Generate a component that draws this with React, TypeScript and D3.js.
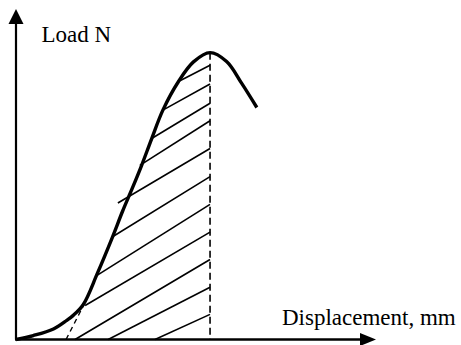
import React from "react";
import * as d3 from "d3";

// Schematic load–displacement curve (arbitrary units, axis span 0..10)
const curveX = [0, 0.48, 1.04, 1.41, 1.59, 1.87, 2.26, 2.68, 2.96, 3.24, 3.49, 3.77, 4.08, 4.51, 4.93, 5.39, 5.85, 6.27, 6.69];
const curveY = [0, 0.12, 0.32, 0.58, 0.73, 1.06, 2.0, 3.1, 3.88, 4.6, 5.27, 6.08, 6.94, 7.8, 8.4, 8.68, 8.41, 7.75, 7.02];

// peak displacement (dashed vertical)
const peakX = 5.39;
const peakY = 8.68;

// hatch lines: left end (x,y) to right end on the dashed line (peakX, y)
const hatchLeftX = [4.5, 4.08, 3.78, 3.44, 2.83, 2.67, 2.25, 1.92, 1.64, 2.56, 3.86];
const hatchLeftY = [7.8, 6.94, 6.09, 5.27, 4.13, 3.1, 1.94, 1.03, 0, 0, 0];
const hatchRightY = [8.3, 7.73, 7.15, 6.62, 5.78, 4.93, 4.09, 3.25, 2.42, 1.58, 0.76];

// dashed tangent extension of the linear part
const tangentX = [1.39, 1.89];
const tangentY = [0, 1.06];

const yLabel = "Load N";
const xLabel = "Displacement, mm";

const serif = "'Times New Roman', Times, 'Liberation Serif', 'DejaVu Serif', serif";

export default function App() {
  const W = 461;
  const H = 345;
  const x = d3.scaleLinear().domain([0, 10]).range([16, 376]);
  const y = d3.scaleLinear().domain([0, 10]).range([339.5, 9]);

  const pts: [number, number][] = curveX.map((v, i) => [v, curveY[i]]);
  const line = d3
    .line<[number, number]>()
    .x((d) => x(d[0]))
    .y((d) => y(d[1]))
    .curve(d3.curveCatmullRom.alpha(0.5));

  const x0 = x(0);
  const y0 = y(0);
  const xTip = x(10);
  const yTip = y(10);

  return (
    <svg
      width={W}
      height={H}
      style={{ position: "absolute", left: 0, top: 0, background: "#fff" }}
    >
      {/* hatch lines */}
      {hatchLeftX.map((lx, i) => (
        <line
          key={i}
          x1={x(lx)}
          y1={y(hatchLeftY[i])}
          x2={x(peakX)}
          y2={y(hatchRightY[i])}
          stroke="#000"
          strokeWidth={1.6}
        />
      ))}
      {/* dashed vertical at peak */}
      <line
        x1={x(peakX)}
        y1={y(peakY)}
        x2={x(peakX)}
        y2={y0}
        stroke="#000"
        strokeWidth={1.6}
        strokeDasharray="7,4"
      />
      {/* dashed tangent */}
      <line
        x1={x(tangentX[0])}
        y1={y(tangentY[0])}
        x2={x(tangentX[1])}
        y2={y(tangentY[1])}
        stroke="#000"
        strokeWidth={1.4}
        strokeDasharray="5,4"
      />
      {/* curve */}
      <path d={line(pts) || ""} fill="none" stroke="#000" strokeWidth={3.4} strokeLinecap="butt" />
      {/* axes */}
      <line x1={x0} y1={y0} x2={x0} y2={yTip + 12} stroke="#000" strokeWidth={2.2} />
      <path d={`M${x0},${yTip} L${x0 - 7.5},${yTip + 15} L${x0 + 7.5},${yTip + 15} Z`} fill="#000" />
      <line x1={x0 - 1} y1={y0} x2={xTip - 12} y2={y0} stroke="#000" strokeWidth={2.6} />
      <path d={`M${xTip},${y0} L${xTip - 16},${y0 - 6.5} L${xTip - 16},${y0 + 6.5} Z`} fill="#000" />
      {/* labels */}
      <text x={41.5} y={41.7} fontFamily={serif} fontSize={23} fill="#000">
        {yLabel}
      </text>
      <text x={282} y={325} fontFamily={serif} fontSize={23} fill="#000">
        {xLabel}
      </text>
    </svg>
  );
}
